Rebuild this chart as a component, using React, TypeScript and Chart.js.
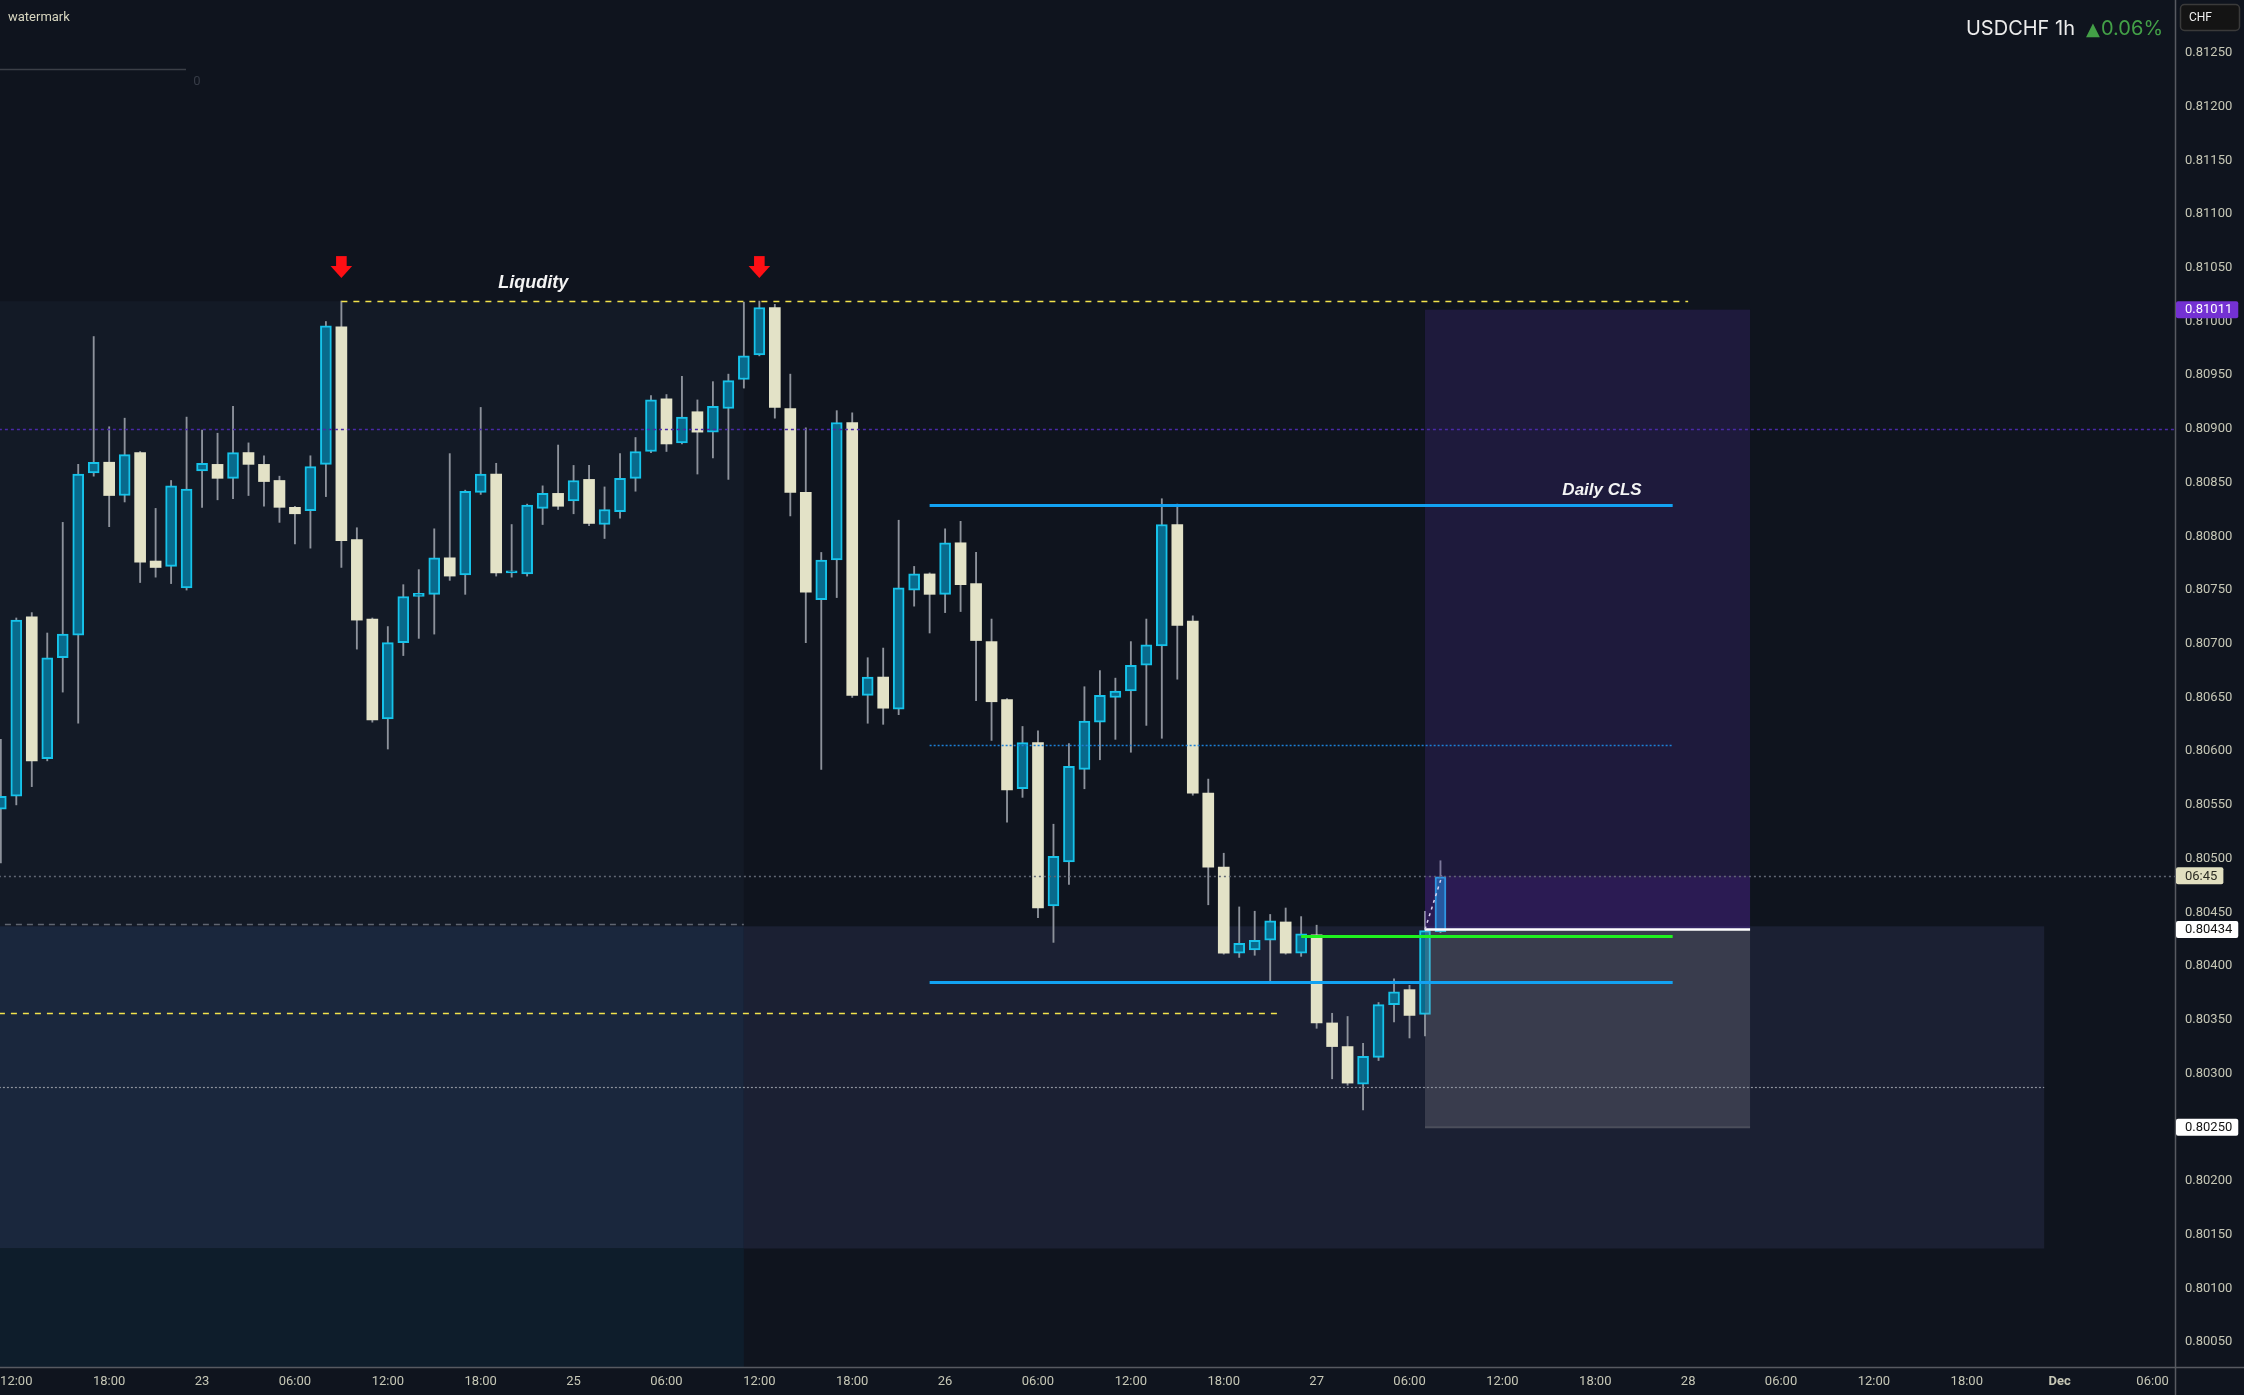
import React, { useEffect, useRef } from "react";
import { Chart, registerables } from "chart.js";

Chart.register(...registerables);

// ---------------- data ----------------
const firstBarHour = -1; // hour index of first candle (0 = the first "12:00" tick)

const opens = [
  0.80546, 0.80558, 0.80725, 0.80593, 0.80687, 0.80708, 0.80859, 0.80869, 0.80838, 0.80878,
  0.80777, 0.80772, 0.80752, 0.80861, 0.80867, 0.80854, 0.80878, 0.80867, 0.80852, 0.80827,
  0.80824, 0.80867, 0.80995, 0.80797, 0.80723, 0.8063, 0.80701, 0.80744, 0.80746, 0.8078,
  0.80764, 0.80841, 0.80858, 0.80766, 0.80765, 0.80826, 0.8084, 0.80833, 0.80853, 0.80811,
  0.80823, 0.80854, 0.80879, 0.80928, 0.80887, 0.80916, 0.80897, 0.80919, 0.80946, 0.80969,
  0.81013, 0.80919, 0.80841, 0.80741, 0.80778, 0.80906, 0.80652, 0.80669, 0.80639, 0.8075,
  0.80765, 0.80746, 0.80794, 0.80756, 0.80702, 0.80648, 0.80565, 0.80608, 0.80456, 0.80497,
  0.80583, 0.80627, 0.8065, 0.80656, 0.8068, 0.80698, 0.80811, 0.80721, 0.80561, 0.80492,
  0.80412, 0.80415, 0.80424, 0.80441, 0.80412, 0.80429, 0.80347, 0.80325, 0.8029, 0.80315,
  0.80364, 0.80378, 0.80355, 0.80432,
];
const highs = [
  0.80611, 0.80724, 0.80729, 0.8071, 0.80813, 0.80867, 0.80986, 0.80902, 0.8091, 0.80879,
  0.80826, 0.80852, 0.80911, 0.80899, 0.80896, 0.80921, 0.80887, 0.80875, 0.80856, 0.80828,
  0.80875, 0.81, 0.81019, 0.80808, 0.80724, 0.80716, 0.80755, 0.80769, 0.80807, 0.80877,
  0.80843, 0.8092, 0.80868, 0.80811, 0.8083, 0.80847, 0.80885, 0.80866, 0.80866, 0.80846,
  0.80877, 0.80892, 0.80931, 0.80932, 0.80949, 0.80927, 0.80944, 0.80951, 0.81018, 0.81019,
  0.81016, 0.80951, 0.80901, 0.80785, 0.80917, 0.80915, 0.80687, 0.80696, 0.80815, 0.80772,
  0.80766, 0.80807, 0.80814, 0.80785, 0.80723, 0.80649, 0.80623, 0.80619, 0.80532, 0.80607,
  0.8066, 0.80675, 0.80668, 0.80702, 0.80723, 0.80835, 0.8083, 0.80726, 0.80574, 0.80505,
  0.80455, 0.80451, 0.80448, 0.80454, 0.80446, 0.80438, 0.80356, 0.80353, 0.80328, 0.80366,
  0.80388, 0.80382, 0.80451, 0.80498,
];
const lows = [
  0.80496, 0.8055, 0.80567, 0.80591, 0.80655, 0.80626, 0.80856, 0.80809, 0.80832, 0.80757,
  0.80762, 0.80756, 0.8075, 0.80827, 0.80834, 0.80835, 0.80838, 0.80828, 0.80813, 0.80793,
  0.80789, 0.80837, 0.80771, 0.80695, 0.80627, 0.80602, 0.80689, 0.80705, 0.80709, 0.80759,
  0.80746, 0.80839, 0.80763, 0.80762, 0.80763, 0.80811, 0.80825, 0.80821, 0.8081, 0.80798,
  0.80817, 0.80842, 0.80878, 0.80879, 0.80886, 0.80858, 0.80873, 0.80853, 0.80938, 0.80968,
  0.8091, 0.80819, 0.80701, 0.80583, 0.80743, 0.8065, 0.80626, 0.80625, 0.80634, 0.80735,
  0.8071, 0.80729, 0.8073, 0.80647, 0.8061, 0.80534, 0.80557, 0.80445, 0.80422, 0.80476,
  0.80565, 0.80592, 0.80611, 0.80599, 0.80624, 0.80612, 0.80667, 0.80559, 0.80457, 0.80411,
  0.80408, 0.8041, 0.80385, 0.80411, 0.80409, 0.80342, 0.80295, 0.80289, 0.80266, 0.80312,
  0.80348, 0.80333, 0.80335, 0.80431,
];
const closes = [
  0.80558, 0.80722, 0.80591, 0.80687, 0.80709, 0.80858, 0.80869, 0.80838, 0.80876, 0.80776,
  0.80771, 0.80847, 0.80844, 0.80868, 0.80854, 0.80878, 0.80867, 0.80851, 0.80827, 0.80821,
  0.80865, 0.80996, 0.80796, 0.80722, 0.80629, 0.80701, 0.80744, 0.80747, 0.8078, 0.80763,
  0.80842, 0.80858, 0.80766, 0.80768, 0.80829, 0.8084, 0.80828, 0.80852, 0.80812, 0.80825,
  0.80854, 0.80879, 0.80927, 0.80886, 0.80911, 0.80897, 0.80921, 0.80945, 0.80968, 0.81013,
  0.8092, 0.80841, 0.80748, 0.80778, 0.80906, 0.80652, 0.80669, 0.8064, 0.80752, 0.80765,
  0.80746, 0.80794, 0.80755, 0.80703, 0.80646, 0.80564, 0.80608, 0.80454, 0.80502, 0.80586,
  0.80628, 0.80652, 0.80656, 0.8068, 0.80699, 0.80811, 0.80717, 0.80561, 0.80492, 0.80412,
  0.80421, 0.80424, 0.80442, 0.80412, 0.8043, 0.80347, 0.80325, 0.80291, 0.80316, 0.80364,
  0.80376, 0.80354, 0.80433, 0.80483,
];

const timeTickHours = [0, 6, 12, 18, 24, 30, 36, 42, 48, 54, 60, 66, 72, 78, 84, 90, 96, 102, 108, 114, 120, 126, 132, 138];
const timeTickLabels = [
  "12:00", "18:00", "23", "06:00", "12:00", "18:00", "25", "06:00", "12:00", "18:00", "26", "06:00",
  "12:00", "18:00", "27", "06:00", "12:00", "18:00", "28", "06:00", "12:00", "18:00", "Dec", "06:00",
];
const priceTicks = [
  0.8005, 0.801, 0.8015, 0.802, 0.8025, 0.803, 0.8035, 0.804, 0.8045, 0.805, 0.8055, 0.806, 0.8065,
  0.807, 0.8075, 0.808, 0.8085, 0.809, 0.8095, 0.81, 0.8105, 0.811, 0.8115, 0.812, 0.8125,
];

const visibleHours = [-1.053, 139.45];
const visiblePrices = [0.800267, 0.812993];

// shaded zones (hour range x price range)
const zoneFromHour = [-5, -5, -5, 47];
const zoneToHour = [47, 47, 47, 131];
const zoneTopPrice = [0.81019, 0.80437, 0.80137, 0.80437];
const zoneBottomPrice = [0.80437, 0.80137, 0.79, 0.80137];

// horizontal levels
const levelPrice = [0.81019, 0.80356, 0.809, 0.80829, 0.80606, 0.80385, 0.80428, 0.80484, 0.80287, 0.80439];
const levelFromHour = [21, -5, -5, 59, 59, 59, 83, -5, -5, -5];
const levelToHour = [108, 81.7, 150, 107, 107, 107, 107, 150, 131, 47];

// position tool
const positionHours = [91, 112];
const positionEntry = 0.80434;
const positionTarget = 0.81011;
const positionStop = 0.8025;
const lastPrice = 0.80484;

const arrowHours = [21, 48];
const noteTexts = ["Liqudity", "Daily CLS"];
const noteHours = [33.4, 105];
const noteLevel = [0, 3];

const axisTagPrices = [0.81011, 0.80434, 0.8025, 0.80484];
const axisTagTexts = ["0.81011", "0.80434", "0.80250", "06:45"];

const symbolTitle = "USDCHF 1h";
const changeArrow = "▲";
const changeText = "0.06%";

// ---------------- styles ----------------
const BG = "#0f141e";
const AXIS_TEXT = "#c6c7b6";
const BLUE_FILL = "#086a8c";
const BLUE_BORDER = "#16c3ea";
const CREAM = "#e3e2c7";
const WICK = "#8d929b";
const zoneColors = ["#131a26", "#1a273d", "#0e1d2b", "#1b2033"];
const levelStyles = [
  { color: "#f2e24c", dash: [6, 6], width: 1.5 },
  { color: "#f2e24c", dash: [6, 6], width: 1.5 },
  { color: "#4a2aa6", dash: [3, 3], width: 1.5 },
  { color: "#12a2f2", dash: [], width: 3 },
  { color: "#1d80d6", dash: [2, 2], width: 1.5 },
  { color: "#12a2f2", dash: [], width: 3 },
  { color: "#1ff21f", dash: [], width: 3 },
  { color: "#626875", dash: [2, 3], width: 1.5 },
  { color: "#8e939d", dash: [2, 2], width: 1.2 },
  { color: "#5f6571", dash: [6, 5], width: 1.5 },
];
const tagStyles = [
  { bg: "#7431d3", fg: "#ffffff" },
  { bg: "#ffffff", fg: "#131313" },
  { bg: "#ffffff", fg: "#131313" },
  { bg: "#e1dfc0", fg: "#2a2a22" },
];

const zeroPadding = (s: any) => {
  s.paddingLeft = 0;
  s.paddingRight = 0;
  s.paddingTop = 0;
  s.paddingBottom = 0;
};

export default function App() {
  const ref = useRef<HTMLCanvasElement>(null);

  useEffect(() => {
    document.body.style.margin = "0";
    document.body.style.background = BG;
    const canvas = ref.current!;
    const isUp = (i: number) => closes[i] >= opens[i];

    const overlay = {
      id: "overlay",
      beforeDraw(chart: any) {
        const c = chart.ctx;
        c.save();
        c.fillStyle = BG;
        c.fillRect(0, 0, chart.width, chart.height);
        c.restore();
      },
      beforeDatasetsDraw(chart: any) {
        const c = chart.ctx;
        const xs = chart.scales.x;
        const ys = chart.scales.y;
        const a = chart.chartArea;
        c.save();
        c.beginPath();
        c.rect(a.left, a.top, a.right - a.left, a.bottom - a.top);
        c.clip();
        for (let i = 0; i < zoneColors.length; i++) {
          const x1 = xs.getPixelForValue(zoneFromHour[i]);
          const x2 = xs.getPixelForValue(zoneToHour[i]);
          const y1 = ys.getPixelForValue(zoneTopPrice[i]);
          const y2 = ys.getPixelForValue(zoneBottomPrice[i]);
          c.fillStyle = zoneColors[i];
          c.fillRect(x1, y1, x2 - x1, y2 - y1);
        }
        c.restore();
      },
      afterDatasetsDraw(chart: any) {
        const c = chart.ctx;
        const xs = chart.scales.x;
        const ys = chart.scales.y;
        const a = chart.chartArea;
        const px = (v: number) => xs.getPixelForValue(v);
        const py = (v: number) => ys.getPixelForValue(v);
        c.save();
        c.beginPath();
        c.rect(a.left, a.top, a.right - a.left, a.bottom - a.top);
        c.clip();

        // position tool
        const p1 = px(positionHours[0]);
        const p2 = px(positionHours[1]);
        c.fillStyle = "rgba(75,44,150,0.25)";
        c.fillRect(p1, py(positionTarget), p2 - p1, py(lastPrice) - py(positionTarget));
        c.fillStyle = "rgba(108,47,210,0.30)";
        c.fillRect(p1, py(lastPrice), p2 - p1, py(positionEntry) - py(lastPrice));
        c.fillStyle = "rgba(147,144,155,0.25)";
        c.fillRect(p1, py(positionEntry), p2 - p1, py(positionStop) - py(positionEntry));
        c.strokeStyle = "#4b4e5b";
        c.lineWidth = 2;
        c.beginPath();
        c.moveTo(p1, py(positionStop));
        c.lineTo(p2, py(positionStop));
        c.stroke();

        // levels
        for (let i = 0; i < levelPrice.length; i++) {
          const s = levelStyles[i];
          const y = Math.round(py(levelPrice[i])) + 0.5;
          c.strokeStyle = s.color;
          c.lineWidth = s.width;
          c.setLineDash(s.dash);
          c.beginPath();
          c.moveTo(px(levelFromHour[i]), y);
          c.lineTo(Math.min(px(levelToHour[i]), a.right), y);
          c.stroke();
        }
        c.setLineDash([]);

        // entry line + path
        c.strokeStyle = "#ffffff";
        c.lineWidth = 2.5;
        c.beginPath();
        c.moveTo(p1, py(positionEntry));
        c.lineTo(p2, py(positionEntry));
        c.stroke();
        c.strokeStyle = "#d9d2f2";
        c.lineWidth = 1.5;
        c.setLineDash([3, 4]);
        c.beginPath();
        c.moveTo(p1, py(positionEntry));
        c.lineTo(px(positionHours[0] + 1.1), py(lastPrice));
        c.stroke();
        c.setLineDash([]);

        // arrows above bar highs
        c.fillStyle = "#ff0f14";
        for (const h of arrowHours) {
          const x = px(h);
          const tip = py(highs[h - firstBarHour]) - 23;
          c.fillRect(x - 5.3, tip - 22, 10.6, 11);
          c.beginPath();
          c.moveTo(x - 10.8, tip - 12);
          c.lineTo(x + 10.8, tip - 12);
          c.lineTo(x, tip);
          c.closePath();
          c.fill();
        }

        // notes
        c.fillStyle = "#f4f4f4";
        c.textBaseline = "alphabetic";
        c.font = "italic bold 18px 'Liberation Sans', Arial, sans-serif";
        c.textAlign = "center";
        c.fillText(noteTexts[0], px(noteHours[0]), py(levelPrice[noteLevel[0]]) - 13);
        c.font = "italic bold 17px 'Liberation Sans', Arial, sans-serif";
        c.textAlign = "right";
        c.fillText(noteTexts[1], px(noteHours[1]), py(levelPrice[noteLevel[1]]) - 10);

        // top-left indicator remnants
        c.strokeStyle = "#3b3f47";
        c.lineWidth = 1.5;
        c.beginPath();
        c.moveTo(0, 69.5);
        c.lineTo(186, 69.5);
        c.stroke();
        c.fillStyle = "#363b46";
        c.font = "13px Roboto, sans-serif";
        c.textAlign = "center";
        c.textBaseline = "middle";
        c.fillText("0", 197, 82);
        c.restore();
      },
      afterDraw(chart: any) {
        const c = chart.ctx;
        const ys = chart.scales.y;
        const a = chart.chartArea;
        c.save();
        // axis lines
        c.strokeStyle = "#575a61";
        c.lineWidth = 1.5;
        c.beginPath();
        c.moveTo(a.right + 0.5, 0);
        c.lineTo(a.right + 0.5, chart.height);
        c.moveTo(0, a.bottom + 0.5);
        c.lineTo(chart.width, a.bottom + 0.5);
        c.stroke();

        // axis price tags
        c.font = "13px Roboto, sans-serif";
        c.textBaseline = "middle";
        c.textAlign = "left";
        for (let i = 0; i < axisTagPrices.length; i++) {
          const y = ys.getPixelForValue(axisTagPrices[i]);
          const w = c.measureText(axisTagTexts[i]).width + 15;
          c.fillStyle = tagStyles[i].bg;
          c.beginPath();
          (c as any).roundRect(a.right + 1, y - 8.5, w, 17, 2);
          c.fill();
          c.fillStyle = tagStyles[i].fg;
          c.fillText(axisTagTexts[i], a.right + 10, y + 0.5);
        }

        // title
        c.textBaseline = "alphabetic";
        c.font = "20px Inter, 'Liberation Sans', sans-serif";
        c.textAlign = "right";
        c.fillStyle = "#ececec";
        c.fillText(symbolTitle, 2075, 35);
        c.textAlign = "left";
        c.fillStyle = "#43a047";
        c.font = "18px 'DejaVu Sans', sans-serif";
        c.fillText(changeArrow, 2086, 35);
        c.font = "20px Inter, 'Liberation Sans', sans-serif";
        c.fillText(changeText, 2101, 35);

        // CHF button
        c.fillStyle = "#141414";
        c.strokeStyle = "#3a3a3a";
        c.lineWidth = 1.5;
        c.beginPath();
        (c as any).roundRect(2180.5, 4.5, 59, 26, 4);
        c.fill();
        c.stroke();
        c.fillStyle = "#f0f0f0";
        c.font = "12px Roboto, sans-serif";
        c.textAlign = "left";
        c.textBaseline = "middle";
        c.fillText("CHF", 2189, 18);

        // watermark
        c.fillStyle = "#d7d6c0";
        c.font = "13px Roboto, sans-serif";
        c.textBaseline = "alphabetic";
        c.fillText("watermark", 8, 21);
        c.restore();
      },
    };

    const hours = opens.map((_, i) => firstBarHour + i);

    const chart = new Chart(canvas, {
      type: "bar",
      data: {
        datasets: [
          {
            label: "bodies",
            data: hours.map((h, i) => ({ x: h, y: [opens[i], closes[i]] })) as any,
            backgroundColor: (ctx: any) => (isUp(ctx.dataIndex) ? BLUE_FILL : CREAM),
            borderColor: (ctx: any) => (isUp(ctx.dataIndex) ? BLUE_BORDER : CREAM),
            borderWidth: (ctx: any) => (isUp(ctx.dataIndex) ? 2 : 0),
            borderSkipped: false,
            barThickness: 11,
            minBarLength: 2,
            grouped: false,
            order: 1,
          } as any,
          {
            label: "wicks",
            data: hours.map((h, i) => ({ x: h, y: [lows[i], highs[i]] })) as any,
            backgroundColor: WICK,
            borderWidth: 0,
            barThickness: 1.2,
            grouped: false,
            order: 2,
          } as any,
        ],
      },
      options: {
        responsive: false,
        animation: false,
        events: [],
        layout: { padding: 0 },
        plugins: { legend: { display: false }, tooltip: { enabled: false } },
        scales: {
          x: {
            type: "linear",
            min: visibleHours[0],
            max: visibleHours[1],
            offset: false,
            bounds: "data",
            grid: { display: false, drawTicks: false },
            border: { display: false },
            afterFit: (s: any) => {
              s.height = 28;
              zeroPadding(s);
            },
            afterBuildTicks: (s: any) => {
              s.ticks = timeTickHours.map((v) => ({ value: v }));
            },
            ticks: {
              autoSkip: false,
              maxRotation: 0,
              padding: 7,
              color: AXIS_TEXT,
              font: (ctx: any) => ({
                family: "Roboto, sans-serif",
                size: 13,
                weight: timeTickLabels[ctx.index] === "Dec" ? "bold" : "normal",
              }),
              callback: (_v: any, i: number) => timeTickLabels[i],
            },
          },
          y: {
            type: "linear",
            position: "right",
            min: visiblePrices[0],
            max: visiblePrices[1],
            bounds: "data",
            grid: { display: false, drawTicks: false },
            border: { display: false },
            afterFit: (s: any) => {
              s.width = 69;
              zeroPadding(s);
            },
            afterBuildTicks: (s: any) => {
              s.ticks = priceTicks.map((v) => ({ value: v }));
            },
            ticks: {
              padding: 10,
              color: AXIS_TEXT,
              font: { family: "Roboto, sans-serif", size: 13 },
              callback: (v: any) => Number(v).toFixed(5),
            },
          },
        },
      } as any,
      plugins: [overlay],
    });

    return () => chart.destroy();
  }, []);

  return (
    <div style={{ width: 2244, height: 1395, position: "relative", overflow: "hidden" }}>
      <canvas ref={ref} width={2244} height={1395} style={{ display: "block", width: 2244, height: 1395 }} />
    </div>
  );
}
